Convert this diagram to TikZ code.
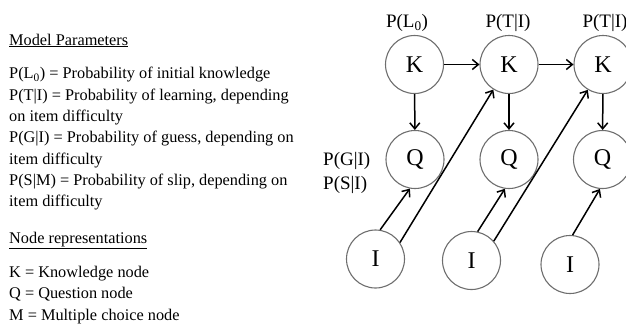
\documentclass[tikz,border=0pt]{standalone}
\usepackage{fontspec}
\setmainfont{Liberation Serif}
\usetikzlibrary{positioning,arrows.meta}
\definecolor{ringgray}{RGB}{110,110,110}

\begin{document}
\begin{tikzpicture}[x=1pt, y=-1pt,
  txt/.style={anchor=base west, inner sep=0pt, font=\fontsize{16.3}{19}\selectfont},
  par/.style={anchor=base, inner sep=0pt, font=\fontsize{19}{22}\selectfont},
  nd/.style={circle, draw=ringgray, line width=1.1pt, minimum size=58pt, inner sep=0pt, font=\fontsize{24}{28}\selectfont},
  arr/.style={-{Straight Barb[length=6pt,width=10pt]}, line width=1.5pt}
]
  \useasboundingbox (0,0) rectangle (626,327);

  % left column: parameters and legend
  \node[txt] (hpar) at (9,45) {\underline{Model Parameters}};
  \node[txt] (t1) at (9,78.7) {P(L\textsubscript{0}) = Probability of initial knowledge};
  \node[txt] (t2) at (9,100) {P(T|I) = Probability of learning, depending};
  \node[txt] (t3) at (9,121.3) {on item difficulty};
  \node[txt] (t4) at (9,142.6) {P(G|I) = Probability of guess, depending on};
  \node[txt] (t5) at (9,164) {item difficulty};
  \node[txt] (t6) at (9,185.3) {P(S|M) = Probability of slip, depending on};
  \node[txt] (t7) at (9,206.6) {item difficulty};

  \node[txt] (hnode) at (9,243.3) {\underline{Node representations}};
  \node[txt] (l1) at (9,277.7) {K = Knowledge node};
  \node[txt] (l2) at (9,298.9) {Q = Question node};
  \node[txt] (l3) at (9,320) {M = Multiple choice node};

  % network
  \node[nd] (k1) at (414.5,64.5) {K};
  \node[nd] (k2) at (509,64.5) {K};
  \node[nd] (k3) at (603,64.5) {K};
  \node[nd] (q1) at (415,159.5) {Q};
  \node[nd] (q2) at (509,159.5) {Q};
  \node[nd] (q3) at (602.5,159.5) {Q};
  \node[nd] (i1) at (375.5,259) {I};
  \node[nd] (i2) at (471.5,260.5) {I};
  \node[nd] (i3) at (570,264.5) {I};

  \node[par] (pk1) at (407,27.5) {P(L\textsubscript{0})};
  \node[par] (pk2) at (508,27.5) {P(T|I)};
  \node[par] (pk3) at (605,27.5) {P(T|I)};
  \node[par, anchor=base west] (pg) at (323,165) {P(G|I)};
  \node[par, anchor=base west] (ps) at (323,189) {P(S|I)};

  \draw[arr] (k1) -- (k2);
  \draw[arr] (k2) -- (k3);
  \draw[arr] (k1) -- (q1);
  \draw[arr] (k2) -- (q2);
  \draw[arr] (k3) -- (q3);

  \draw[arr] (i1.81) -- (q1.260);
  \draw[arr] (i1.34) -- (k2.238);
  \draw[arr] (i2.78) -- (q2.262);
  \draw[arr] (i2.41) -- (k3.239);
  \draw[arr] (i3.85) -- (q3.265);
\end{tikzpicture}
\end{document}
